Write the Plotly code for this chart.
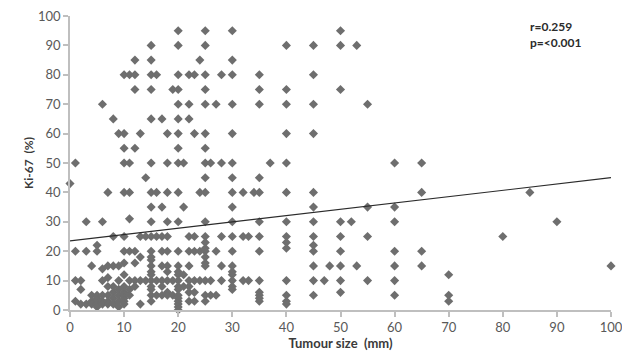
import plotly.graph_objects as go

# Tumour size (mm) -> list of Ki-67 (%) values observed at that size
size_values = [0, 1, 2, 3, 4, 5, 6, 7, 8, 9, 10, 11, 12, 13, 14, 15, 16, 17, 18, 19,
               20, 21, 22, 23, 24, 25, 26, 27, 28, 30, 32, 33, 34, 35, 37, 40, 45, 47,
               48, 50, 52, 53, 55, 60, 65, 70, 80, 85, 90, 100]
ki67_by_size = [
    [43],
    [50, 20, 10, 3],
    [10, 7, 2],
    [30, 20, 2],
    [15, 5, 3, 2],
    [22, 20, 5, 4, 3, 2, 1],
    [70, 30, 14, 10, 5, 3, 2],
    [40, 15, 11, 8, 5, 3, 2],
    [65, 25, 15, 8, 6, 4, 2],
    [60, 15, 10, 7, 5, 3, 1],
    [80, 60, 55, 50, 40, 25, 20, 16, 12, 8, 6, 5, 4, 3, 2],
    [80, 50, 40, 31, 20, 10, 7, 5],
    [85, 80, 75, 55, 20, 16, 10, 8],
    [60, 25, 18, 10, 2],
    [45, 25, 10],
    [90, 85, 80, 75, 65, 50, 40, 35, 30, 25, 20, 18, 17, 15, 13, 12, 10, 8, 7, 5, 3],
    [80, 40, 25, 10, 5],
    [65, 35, 25, 20, 15, 10, 8, 5],
    [60, 50, 40, 30, 25, 20, 15, 13, 10, 6, 5],
    [75, 10, 5],
    [95, 90, 80, 75, 70, 65, 60, 55, 50, 40, 30, 20, 15, 13, 12, 10, 8, 7, 5, 4, 3, 2, 1, 0],
    [50, 35, 12, 8],
    [80, 70, 65, 25, 20, 15, 10, 8, 6, 3],
    [80, 60, 25, 20, 10, 6, 3],
    [85, 40, 20, 10],
    [95, 90, 80, 75, 70, 60, 55, 50, 45, 40, 30, 25, 23, 21, 20, 18, 16, 15, 10, 5, 3],
    [50, 10, 5],
    [70, 20, 5],
    [80, 50, 25, 15, 10],
    [95, 85, 80, 70, 60, 50, 45, 40, 35, 30, 25, 20, 15, 13, 12, 10, 8, 7],
    [40, 25, 10],
    [25, 10],
    [40],
    [80, 75, 70, 45, 40, 30, 25, 20, 10, 6, 5, 4, 3],
    [50],
    [90, 75, 70, 60, 50, 40, 30, 25, 23, 21, 10, 5, 3, 2],
    [90, 80, 70, 60, 40, 35, 30, 25, 22, 20, 15, 10, 5],
    [10],
    [15],
    [95, 90, 75, 30, 25, 20, 15, 10, 6],
    [30],
    [90, 15],
    [70, 35, 25, 10],
    [50, 35, 30, 20, 15, 10, 5],
    [50, 40, 20, 15],
    [12, 5, 3],
    [25],
    [40],
    [30],
    [15],
]

# Regression line
trend_intercept = 23.5
trend_slope = 0.215
trend_x = [0, 100]

x_ticks = [0, 10, 20, 30, 40, 50, 60, 70, 80, 90, 100]
y_ticks = [0, 10, 20, 30, 40, 50, 60, 70, 80, 90, 100]

xs, ys = [], []
for s, vals in zip(size_values, ki67_by_size):
    for v in vals:
        xs.append(s)
        ys.append(v)

trend_y = [trend_intercept + trend_slope * t for t in trend_x]

FONT = "Lato, Liberation Sans, sans-serif"

fig = go.Figure()
fig.add_trace(go.Scatter(
    x=xs, y=ys, mode="markers",
    marker=dict(symbol="diamond", size=7, color="#6e6e6e", line=dict(width=0)),
    showlegend=False, hoverinfo="x+y", cliponaxis=False))
fig.add_trace(go.Scatter(
    x=trend_x, y=trend_y, mode="lines",
    line=dict(color="#2b2b2b", width=1.2), showlegend=False))

axis_common = dict(
    showgrid=False, zeroline=False, showline=True, linecolor="#bfbfbf", linewidth=1.5,
    ticks="outside", ticklen=5, tickcolor="#bfbfbf", tickwidth=1.5,
    tickfont=dict(family=FONT, size=13, color="#595959"),
    automargin=False, ticklabeloverflow="allow",
)

fig.update_xaxes(range=[0, 100], tickvals=x_ticks, **axis_common,
                 title=dict(text="<b>Tumour size  (mm)</b>", standoff=3,
                            font=dict(family=FONT, size=13, color="#3a3a3a")))
fig.update_yaxes(range=[0, 100], tickvals=y_ticks, **axis_common,
                 title=dict(text="<b>Ki-67  (%)</b>", standoff=2,
                            font=dict(family=FONT, size=12, color="#3a3a3a")))

fig.add_annotation(
    x=0.847, y=0.995, xref="paper", yref="paper", xanchor="left", yanchor="top",
    text="<b>r=0.259<br>p=<0.001</b>", showarrow=False, align="left",
    font=dict(family=FONT, size=12, color="#2b2b2b"))

fig.update_layout(
    width=630, height=358,
    margin=dict(l=62, r=27, t=8, b=56),
    paper_bgcolor="white", plot_bgcolor="white",
)

fig.write_html("out.html")
